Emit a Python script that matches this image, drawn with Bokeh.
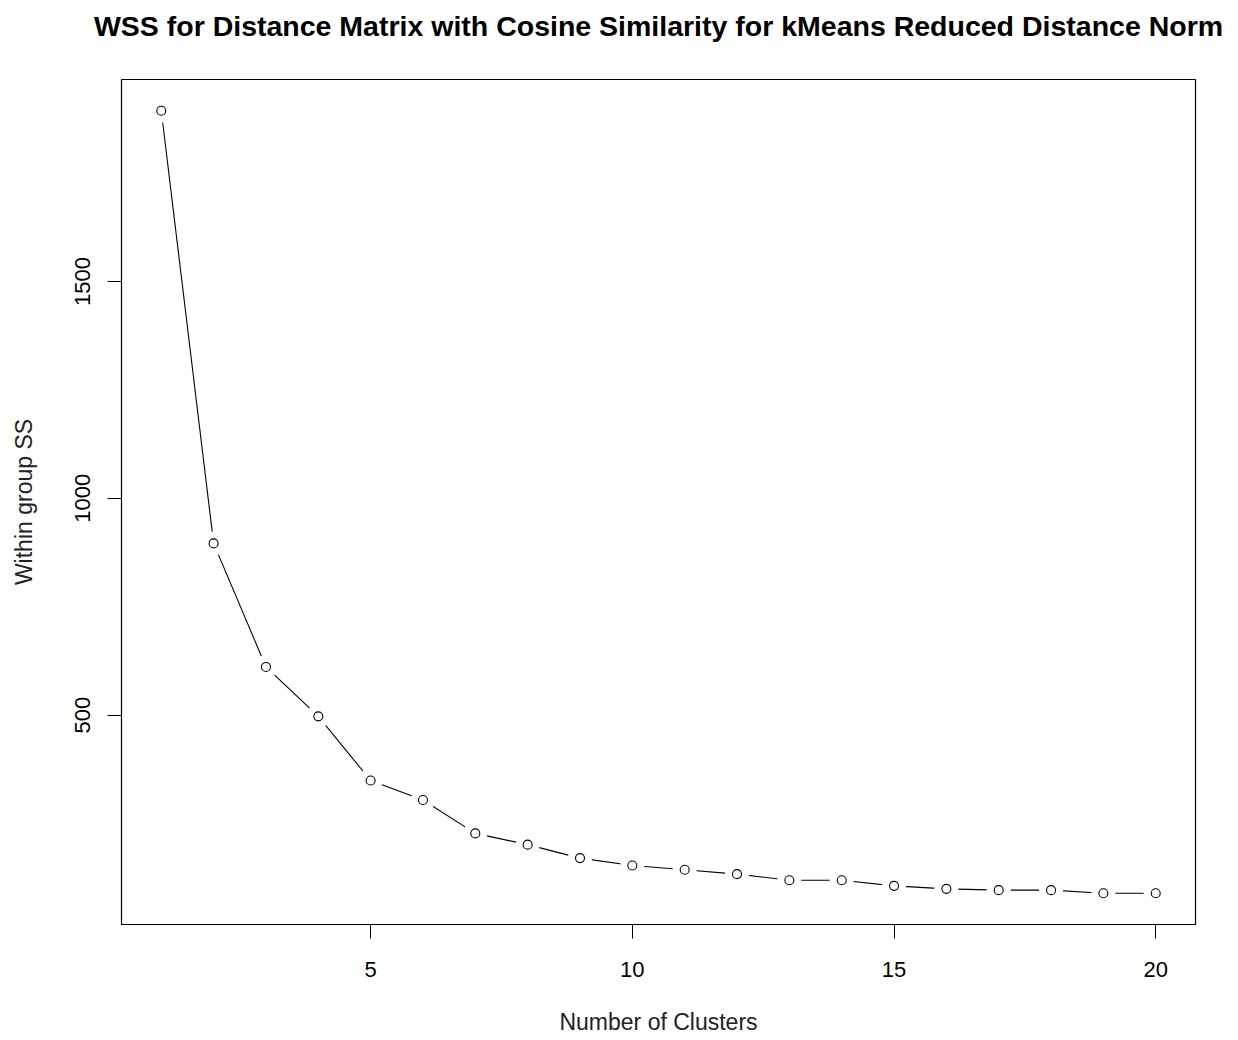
from bokeh.plotting import figure
from bokeh.models import Range1d, FixedTicker, ColumnDataSource
from bokeh.embed import file_html
from bokeh.resources import INLINE

clusters = list(range(1, 21))
wss = [1894, 896, 611, 497, 349, 304, 227, 201, 170, 153,
       143, 133, 119, 119, 106, 99, 96, 96, 89, 89]
x_ticks = [5, 10, 15, 20]
y_ticks = [500, 1000, 1500]

title = "WSS for Distance Matrix with Cosine Similarity for kMeans Reduced Distance Norm"
x_label = "Number of Clusters"
y_label = "Within group SS"

FONT = "Liberation Sans"

src = ColumnDataSource(dict(x=clusters, y=wss))

# R-style 4% range extension
xr = max(clusters) - min(clusters)
yr = max(wss) - min(wss)
x_range = Range1d(min(clusters) - 0.04 * xr, max(clusters) + 0.04 * xr)
y_range = Range1d(min(wss) - 0.04 * yr, max(wss) + 0.04 * yr)

p = figure(frame_width=1074, frame_height=845,
           min_border_left=121, min_border_right=43,
           min_border_top=79, min_border_bottom=116,
           x_range=x_range, y_range=y_range,
           output_backend="svg", toolbar_location=None,
           background_fill_color="white", border_fill_color="white")

# trailing empty line lifts the title away from the plot box (as in R)
p.title.text = title + "\n"
p.title.text_font = FONT
p.title.text_font_size = "28.5px"
p.title.text_font_style = "bold"
p.title.align = "center"
p.title.text_color = "black"
p.title.standoff = 11

p.grid.visible = False
p.outline_line_color = "black"
p.outline_line_width = 1.2

for ax in (p.xaxis, p.yaxis):
    ax.axis_line_color = "black"
    ax.major_tick_line_color = "black"
    ax.major_tick_out = 14
    ax.major_tick_in = 0
    ax.minor_tick_line_color = None
    ax.major_label_text_font = FONT
    ax.major_label_text_font_size = "22px"
    ax.major_label_text_color = "black"
    ax.axis_label_text_font = FONT
    ax.axis_label_text_font_size = "23px"
    ax.axis_label_text_font_style = "normal"
    ax.axis_label_text_color = "#222222"

p.xaxis.ticker = FixedTicker(ticks=x_ticks)
p.yaxis.ticker = FixedTicker(ticks=y_ticks)
p.yaxis.major_label_orientation = "vertical"
p.xaxis.major_label_standoff = 23
p.yaxis.major_label_standoff = 17
p.xaxis.axis_label = x_label
p.yaxis.axis_label = y_label
p.xaxis.axis_label_standoff = 29
p.yaxis.axis_label_standoff = 36

p.line("x", "y", source=src, line_color="black", line_width=1.1)
# gaps around points like R type="b"
p.scatter("x", "y", source=src, size=24, fill_color="white", line_color=None)
p.scatter("x", "y", source=src, size=9, fill_color="white", line_color="black", line_width=1.1)

open("out.html", "w").write(file_html(p, INLINE))
